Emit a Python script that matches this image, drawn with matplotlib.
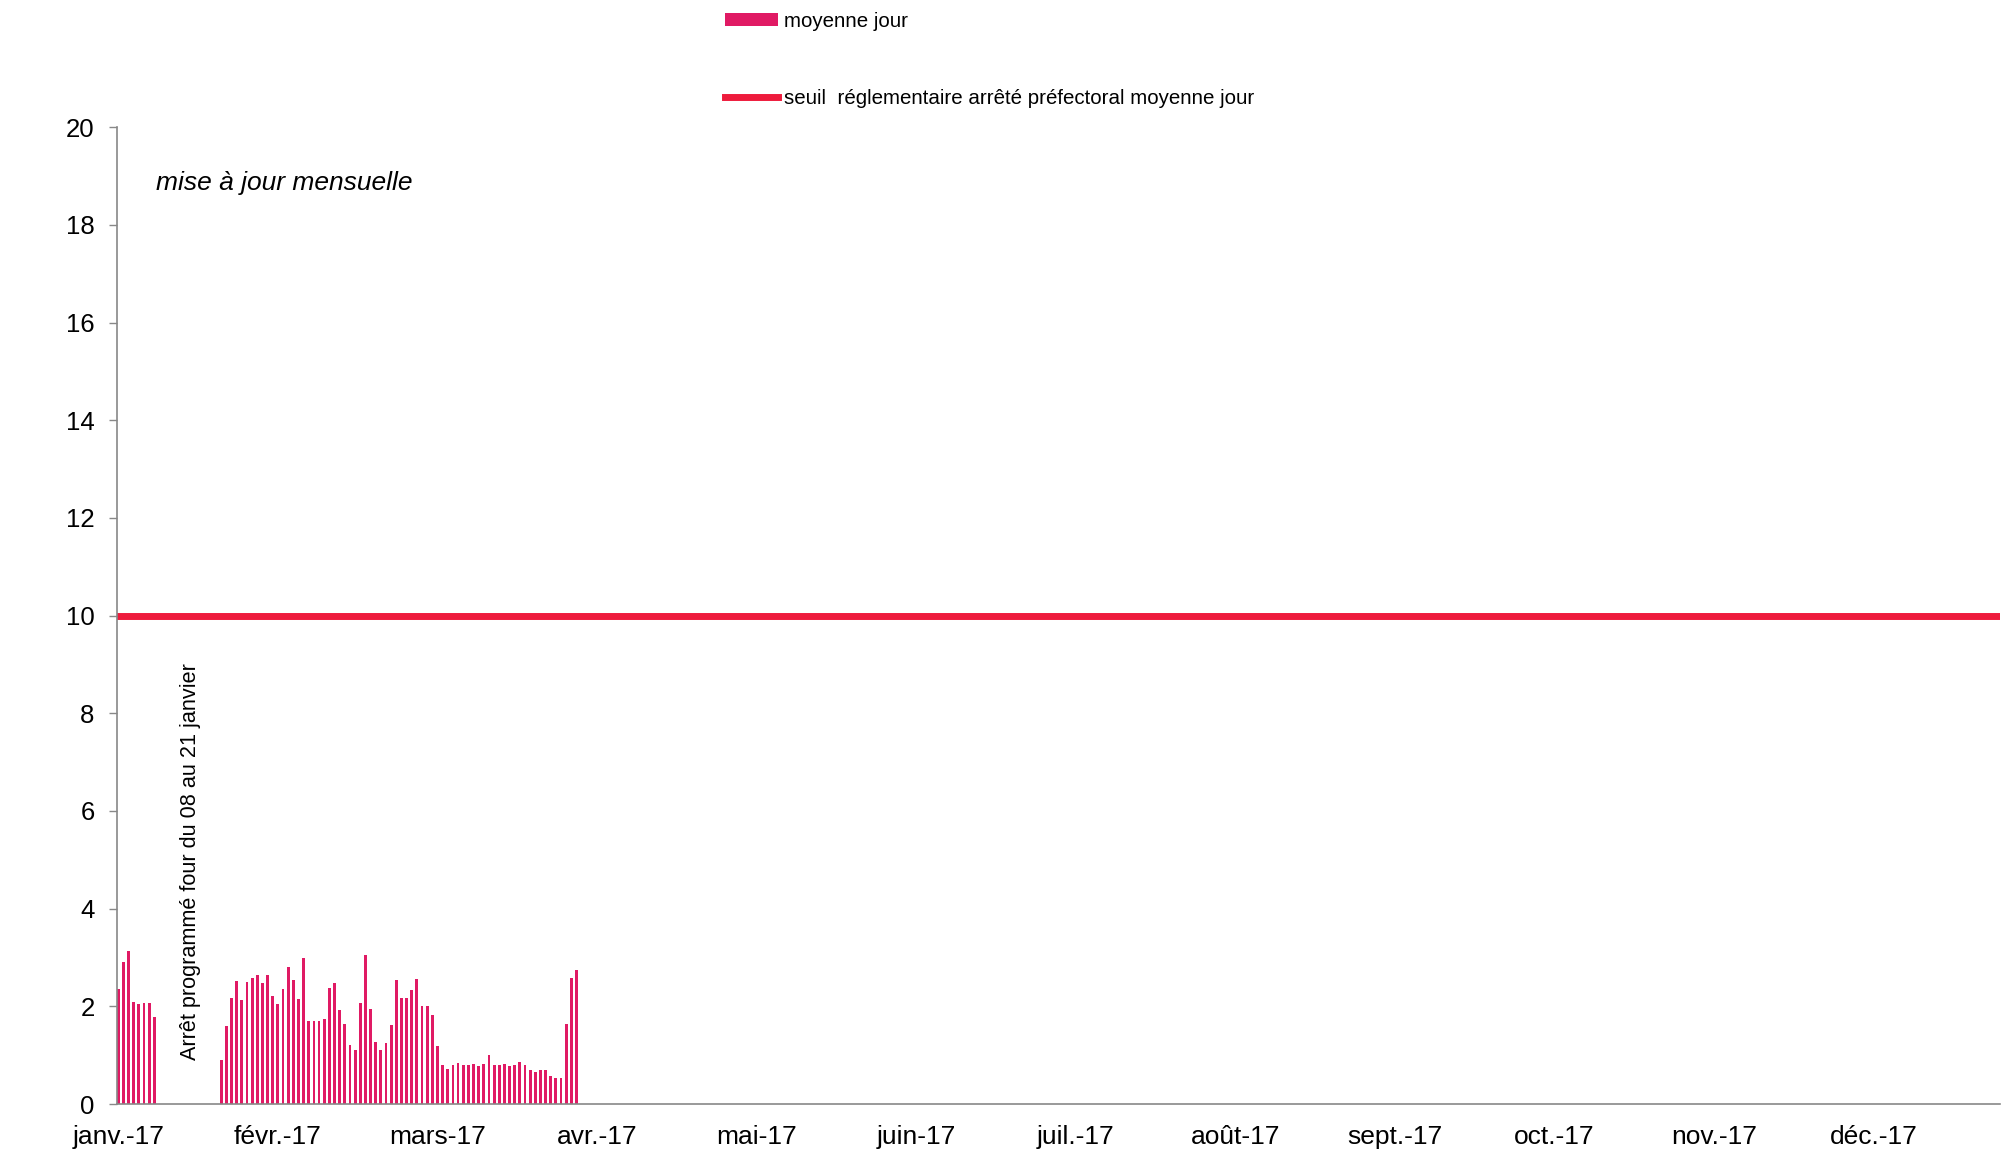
import numpy as np
import matplotlib
matplotlib.use("Agg")
import matplotlib.pyplot as plt

plt.rcParams['font.family'] = ['Liberation Sans', 'DejaVu Sans']

# moyenne jour, du 1er janvier au 31 mars 2017 (NaN = arrêt four)
jan_debut = [2.36, 2.90, 3.14, 2.09, 2.05, 2.07, 2.07, 1.78]
arret = [np.nan] * 12
reprise = [0.90, 1.59, 2.17, 2.52, 2.14, 2.49, 2.58, 2.64, 2.47, 2.64,
           2.21, 2.05, 2.36, 2.81, 2.53, 2.16, 3.00, 1.71, 1.70, 1.71,
           1.75, 2.38, 2.47, 1.93, 1.64, 1.20, 1.10, 2.07, 3.06, 1.94,
           1.28, 1.10, 1.25, 1.62, 2.53, 2.17, 2.17, 2.33, 2.57, 2.00,
           2.00, 1.83, 1.18, 0.79, 0.72, 0.79, 0.84, 0.79, 0.79, 0.81,
           0.77, 0.82, 1.01, 0.79, 0.79, 0.81, 0.77, 0.79, 0.86, 0.80,
           0.70, 0.65, 0.70, 0.70, 0.58, 0.53, 0.53, 1.64, 2.58, 2.75]
moyenne_jour = np.array(jan_debut + arret + reprise)
seuil = 10

mois = ['janv.-17', 'févr.-17', 'mars-17', 'avr.-17', 'mai-17', 'juin-17',
        'juil.-17', 'août-17', 'sept.-17', 'oct.-17', 'nov.-17', 'déc.-17']
nb_jours = 366
pas_mois = 31

fig = plt.figure(figsize=(20.13, 11.54), dpi=100)
ax = fig.add_axes([0.058, 0.0433, 0.9355, 0.8465])

jours = np.arange(len(moyenne_jour))
barres = ax.bar(jours, moyenne_jour, width=0.55, color='#E01A64', label='moyenne jour')
ligne = ax.axhline(seuil, color='#EE1B3C', linewidth=5,
                   label='seuil  réglementaire arrêté préfectoral moyenne jour')

ax.set_xlim(-0.3, nb_jours - 0.5)
ax.set_ylim(0, 20)
ax.set_yticks(np.arange(0, 21, 2))
ax.set_xticks(np.arange(len(mois)) * pas_mois)
ax.set_xticklabels(mois)

ax.tick_params(axis='y', labelsize=18.5, length=6, width=1, color='#888888', pad=10)
ax.tick_params(axis='x', labelsize=19, length=0, pad=15)
for s in ['top', 'right']:
    ax.spines[s].set_visible(False)
for s in ['left', 'bottom']:
    ax.spines[s].set_color('#888888')
    ax.spines[s].set_linewidth(1.2)

ax.text(0.021, 0.943, 'mise à jour mensuelle', transform=ax.transAxes,
        fontsize=19, style='italic', va='center', ha='left')
ax.text(14, 0.9, 'Arrêt programmé four du 08 au 21 janvier', rotation=90,
        fontsize=15.6, ha='center', va='bottom')

fig.legend(handles=[barres, ligne], loc='upper left',
           bbox_to_anchor=(0.360, 0.990), frameon=False, fontsize=14.8,
           borderpad=0, borderaxespad=0, labelspacing=2.85,
           handlelength=2.6, handletextpad=0.3, handleheight=0.6)

fig.savefig('out.png', dpi=100)
